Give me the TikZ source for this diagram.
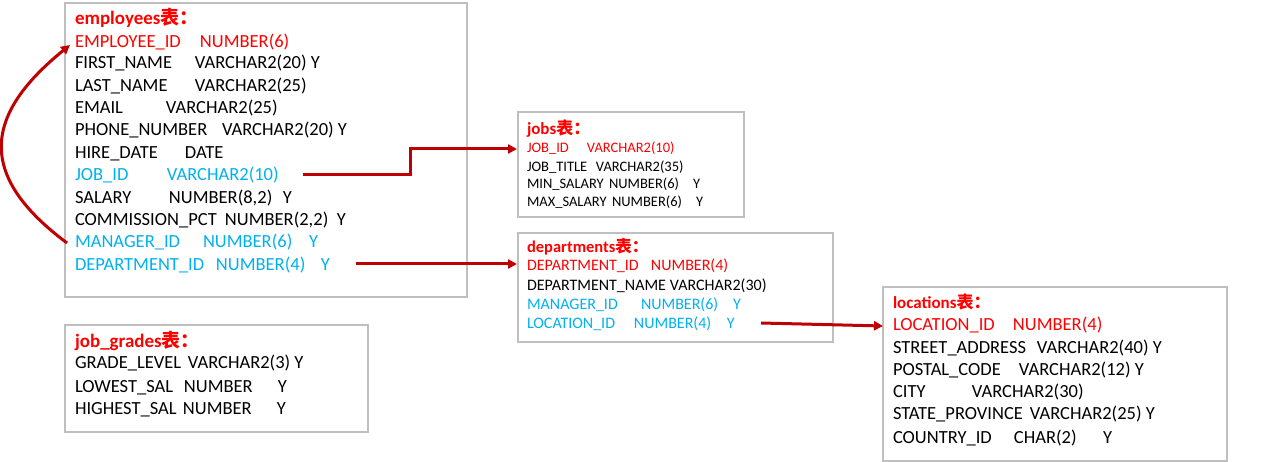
\documentclass[tikz,border=0pt]{standalone}
\usepackage{fontspec}
\setmainfont{Carlito}
\newfontfamily\cjk{Noto Sans CJK SC}
\usetikzlibrary{arrows.meta}
\definecolor{keyred}{HTML}{FF0000}
\definecolor{fkblue}{HTML}{00B0F0}
\definecolor{linkred}{HTML}{C00000}
\definecolor{boxgray}{HTML}{BFBFBF}
\newcommand\two[3]{\makebox[#1pt][l]{#2}#3}
\newcommand\three[5]{\makebox[#1pt][l]{#2}\makebox[#3pt][l]{#4}#5}
\newcommand\biga{\fontsize{18.5}{20}\selectfont}
\newcommand\midf{\fontsize{16}{18}\selectfont}
\newcommand\smallf{\fontsize{14.5}{16}\selectfont}
\newcommand\ttl[1]{\bfseries #1{\cjk\bfseries 表：}}
\tikzset{
  fld/.style={anchor=base west, inner sep=0pt, outer sep=0pt},
  tbox/.style={draw=boxgray, line width=1.3pt},
  link/.style={draw=linkred, line width=3pt, -{Triangle[length=9pt,width=9pt]}},
}
\begin{document}
\begin{tikzpicture}[x=1pt,y=-1pt]
\useasboundingbox (0,0) rectangle (1278,462);
% boxes
\draw[tbox] (65,3) rectangle (467,297);
\draw[tbox] (518,112) rectangle (744,217);
\draw[tbox] (518,233) rectangle (833,342);
\draw[tbox] (883,287) rectangle (1227,461);
\draw[tbox] (65,325) rectangle (368,432);
% employees
\begin{scope}[every node/.append style={fld, font=\biga}]
\node[text=keyred, font=\fontsize{19}{21}\selectfont] (et) at (75,25) {\ttl{employees}};
\node[text=keyred] (e1) at (75,48) {\two{125}{EMPLOYEE\_ID}{NUMBER(6)}};
\node (e2) at (75,69) {\two{120}{FIRST\_NAME}{VARCHAR2(20) Y}};
\node (e3) at (75,92) {\two{120}{LAST\_NAME}{VARCHAR2(25)}};
\node (e4) at (75,114) {\two{91}{EMAIL}{VARCHAR2(25)}};
\node (e5) at (75,136) {\two{147}{PHONE\_NUMBER}{VARCHAR2(20) Y}};
\node (e6) at (75,159) {\two{110}{HIRE\_DATE}{DATE}};
\node[text=fkblue] (e7) at (75,181) {\two{92}{JOB\_ID}{VARCHAR2(10)}};
\node (e8) at (75,204) {\three{94}{SALARY}{114}{NUMBER(8,2)}{Y}};
\node (e9) at (75,226) {\three{150}{COMMISSION\_PCT}{112}{NUMBER(2,2)}{Y}};
\node[text=fkblue] (e10) at (75,248) {\three{128}{MANAGER\_ID}{106}{NUMBER(6)}{Y}};
\node[text=fkblue] (e11) at (75,271) {\three{141}{DEPARTMENT\_ID}{105}{NUMBER(4)}{Y}};
\end{scope}
% jobs
\begin{scope}[every node/.append style={fld, font=\smallf}]
\node[text=keyred, font=\fontsize{17}{19}\selectfont] (jt) at (527,135) {\ttl{jobs}};
\node[text=keyred] (j1) at (527,152.5) {\two{60}{JOB\_ID}{VARCHAR2(10)}};
\node (j2) at (527,171.5) {\two{69}{JOB\_TITLE}{VARCHAR2(35)}};
\node (j3) at (527,188.5) {\three{82}{MIN\_SALARY}{84}{NUMBER(6)}{Y}};
\node (j4) at (527,206.5) {\three{85}{MAX\_SALARY}{84}{NUMBER(6)}{Y}};
\end{scope}
% departments
\begin{scope}[every node/.append style={fld, font=\midf}]
\node[text=keyred, font=\fontsize{16.5}{18}\selectfont] (dt) at (527,253) {\ttl{departments}};
\node[text=keyred] (d1) at (527,271) {\two{124}{DEPARTMENT\_ID}{NUMBER(4)}};
\node (d2) at (527,291) {\two{143}{DEPARTMENT\_NAME}{VARCHAR2(30)}};
\node[text=fkblue] (d3) at (527,310) {\three{114}{MANAGER\_ID}{92}{NUMBER(6)}{Y}};
\node[text=fkblue] (d4) at (527,329) {\three{107}{LOCATION\_ID}{93}{NUMBER(4)}{Y}};
\end{scope}
% locations
\begin{scope}[every node/.append style={fld, font=\biga}]
\node[text=keyred, font=\fontsize{17}{19}\selectfont] (lt) at (893,308.5) {\ttl{locations}};
\node[text=keyred] (l1) at (893,331) {\two{120}{LOCATION\_ID}{NUMBER(4)}};
\node (l2) at (893,354) {\two{144}{STREET\_ADDRESS}{VARCHAR2(40) Y}};
\node (l3) at (893,376) {\two{126}{POSTAL\_CODE}{VARCHAR2(12) Y}};
\node (l4) at (893,398) {\two{79}{CITY}{VARCHAR2(30)}};
\node (l5) at (893,420) {\two{137}{STATE\_PROVINCE}{VARCHAR2(25) Y}};
\node (l6) at (893,443) {\three{121}{COUNTRY\_ID}{89}{CHAR(2)}{Y}};
\end{scope}
% job_grades
\begin{scope}[every node/.append style={fld, font=\biga}]
\node[text=keyred, font=\fontsize{19}{21}\selectfont] (gt) at (75,348) {\ttl{job\_grades}};
\node (g1) at (75,369) {\two{113}{GRADE\_LEVEL}{VARCHAR2(3) Y}};
\node (g2) at (75,392) {\three{109}{LOWEST\_SAL}{94}{NUMBER}{Y}};
\node (g3) at (75,414) {\three{108}{HIGHEST\_SAL}{94}{NUMBER}{Y}};
\end{scope}
% connector end points
\coordinate (jobfrom) at (303,175);
\coordinate (jobbend) at (410,175);
\coordinate (jobto) at (517,149);
\coordinate (depfrom) at (356,264);
\coordinate (depto) at (517,264);
\coordinate (locfrom) at (761,323);
\coordinate (locto) at (883,326);
\coordinate (mgrfrom) at (67,243);
\coordinate (mgrto) at (70,45);
\draw[link] (jobfrom) -- (jobbend) |- (jobto);
\draw[link] (depfrom) -- (depto);
\draw[link] (locfrom) -- (locto);
\draw[link] (mgrfrom) .. controls (-20,178) and (-20,118) .. (mgrto);
\end{tikzpicture}
\end{document}
